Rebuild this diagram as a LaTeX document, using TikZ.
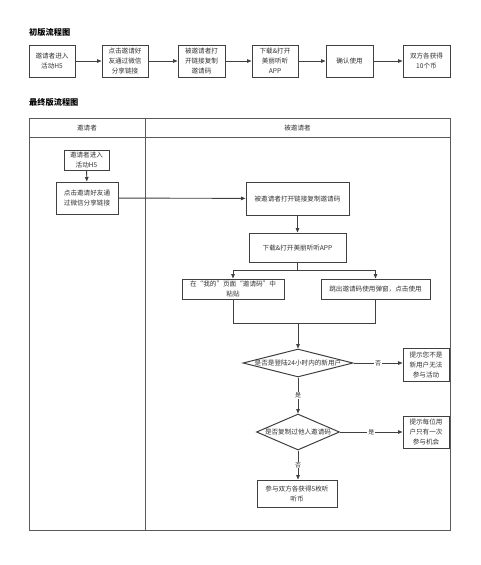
\documentclass[tikz,border=0pt]{standalone}
\usepackage{fontspec}
\setmainfont{Noto Sans CJK SC}
\usetikzlibrary{arrows.meta,shapes.geometric}
\definecolor{ln}{HTML}{404040}
\definecolor{lane}{HTML}{5a5a5a}
\definecolor{tx}{HTML}{333333}
\begin{document}
\begin{tikzpicture}[x=1pt,y=-1pt,
  box/.style={draw=ln,line width=1pt,rectangle,inner sep=1pt,align=center,text=tx,
    font=\fontsize{6.6}{10}\selectfont},
  dia/.style={draw=ln,line width=1pt,diamond,inner sep=0pt,aspect=2},
  lbl/.style={text=tx,font=\fontsize{6.6}{10}\selectfont,inner sep=0.5pt},
  arr/.style={draw=ln,line width=0.9pt,-{Triangle[length=4.5pt,width=3.6pt]}},
  ln0/.style={draw=ln,line width=0.9pt},
  lanes/.style={draw=lane,line width=1pt},
  ttl/.style={text=black,font=\fontsize{8.2}{10}\bfseries\selectfont,anchor=west,inner sep=0pt},
  lab/.style={fill=white,text=tx,font=\fontsize{6}{8}\selectfont,inner sep=0.8pt}]
\useasboundingbox[fill=white] (0,0) rectangle (480,565);

% titles
\node[ttl] (t1) at (29,32) {初版流程图};
\node[ttl] (t2) at (29,102) {最终版流程图};

% first flow
\node[box,minimum width=46pt,minimum height=32pt] (a1) at (52,61) {邀请者进入\\活动H5};
\node[box,minimum width=46pt,minimum height=32pt] (a2) at (125,61) {点击邀请好\\友通过微信\\分享链接};
\node[box,minimum width=47pt,minimum height=32pt] (a3) at (201.5,61) {被邀请者打\\开链接复制\\邀请码};
\node[box,minimum width=46pt,minimum height=32pt] (a4) at (275,61) {下载\&打开\\美丽听听\\APP};
\node[box,minimum width=47pt,minimum height=32pt] (a5) at (349.5,61) {确认使用};
\node[box,minimum width=47pt,minimum height=32pt] (a6) at (426.5,61) {双方各获得\\10个币};
\draw[arr] (a1) -- (a2);
\draw[arr] (a2) -- (a3);
\draw[arr] (a3) -- (a4);
\draw[arr] (a4) -- (a5);
\draw[arr] (a5) -- (a6);

% swimlane
\draw[lanes] (29,118) rectangle (450,530);
\draw[lanes] (29,137) -- (450,137);
\draw[lanes] (145,118) -- (145,530);
\node[lbl] (h1) at (87,128) {邀请者};
\node[lbl] (h2) at (297.5,128) {被邀请者};

% final flow
\node[box,minimum width=45pt,minimum height=20pt] (A) at (86.5,160) {邀请者进入\\活动H5};
\node[box,minimum width=62pt,minimum height=32pt] (B) at (87,198) {点击邀请好友通\\过微信分享链接};
\node[box,minimum width=103pt,minimum height=33pt] (C) at (297.5,198.5) {被邀请者打开链接复制邀请码};
\node[box,minimum width=97pt,minimum height=29pt] (D) at (297.5,247.5) {下载\&打开美丽听听APP};
\node[box,minimum width=102pt,minimum height=20pt] (E) at (233,289) {在“我的”页面“邀请码”中\\粘贴};
\node[box,minimum width=109pt,minimum height=20pt] (F) at (375.5,289) {跳出邀请码使用弹窗，点击使用};
\node[dia,minimum width=110pt,minimum height=28pt] (Q1) at (298,363) {};
\node[lbl] (Q1t) at (298,363) {是否是登陆24小时内的新用户};
\node[box,minimum width=46pt,minimum height=33pt] (G) at (426,364.5) {提示您不是\\新用户无法\\参与活动};
\node[dia,minimum width=83pt,minimum height=36pt] (Q2) at (298,432) {};
\node[lbl] (Q2t) at (298,432) {是否复制过他人邀请码};
\node[box,minimum width=46pt,minimum height=32pt] (H) at (426,432) {提示每位用\\户只有一次\\参与机会};
\node[box,minimum width=80pt,minimum height=27pt] (I) at (297,493.5) {参与双方各获得5枚听\\听币};

\coordinate (sp) at (297.5,270);
\coordinate (sl) at (233,270);
\coordinate (sr) at (375.5,270);
\coordinate (ml) at (233,323);
\coordinate (mr) at (375.5,323);
\coordinate (mm) at (298,323);

\draw[arr] (A) -- (B);
\draw[arr] (B) -- (C);
\draw[arr] (C) -- (D);
\draw[ln0] (D.south) -- (sp);
\draw[ln0] (sl) -- (sr);
\draw[arr] (sl) -- (E.north);
\draw[arr] (sr) -- (F.north);
\draw[ln0] (E.south) -- (ml) -- (mr) -- (F.south);
\draw[arr] (mm) -- (Q1.north);
\draw[arr] (Q1.east) -- node[lab] {否} (G.west |- Q1.east);
\draw[arr] (Q1.south) -- node[lab] {是} (Q2.north);
\draw[arr] (Q2.east) -- node[lab] {是} (H.west |- Q2.east);
\draw[arr] (Q2.south) -- node[lab] {否} (I.north -| Q2.south);
\end{tikzpicture}
\end{document}
